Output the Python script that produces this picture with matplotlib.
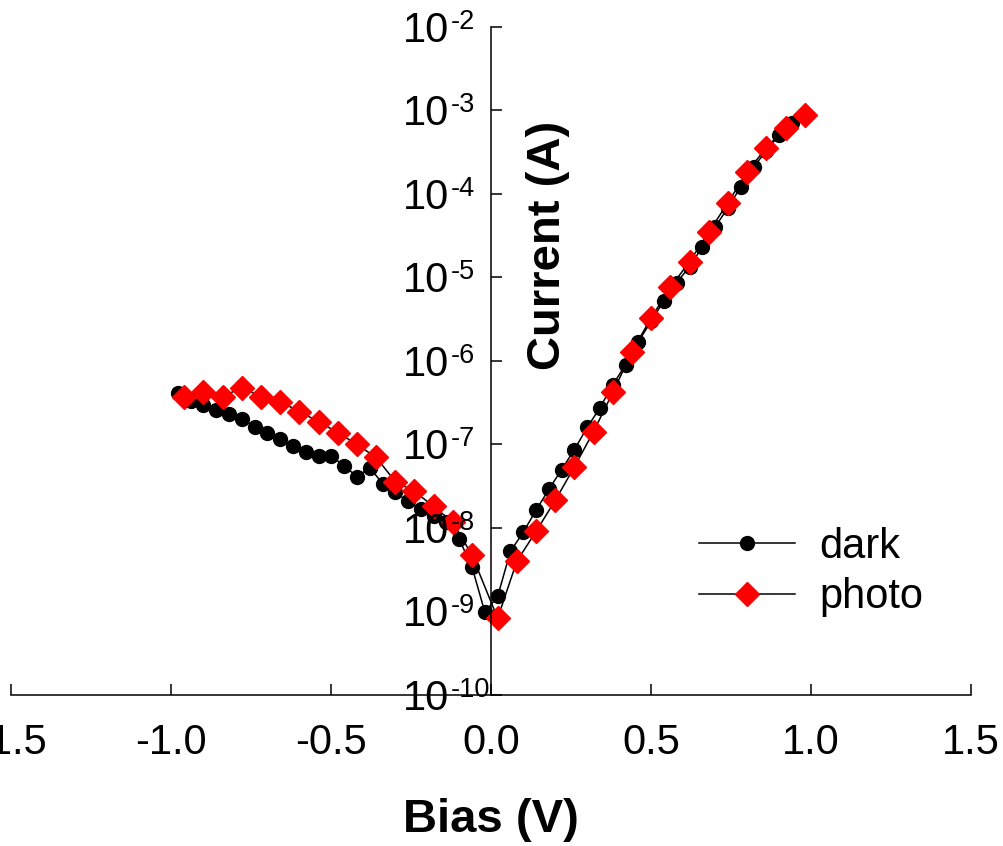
import numpy as np
import matplotlib
matplotlib.use("Agg")
import matplotlib.pyplot as plt
from matplotlib.ticker import FixedLocator, FuncFormatter, NullLocator, NullFormatter
from matplotlib.transforms import offset_copy

plt.rcParams['font.family'] = ['Liberation Sans', 'DejaVu Sans']
plt.rcParams['axes.unicode_minus'] = False

# dark I-V sweep (V, A)
dark_bias = [-0.98, -0.94, -0.90, -0.86, -0.82, -0.78, -0.74, -0.70, -0.66, -0.62,
             -0.58, -0.54, -0.50, -0.46, -0.42, -0.38, -0.34, -0.30, -0.26, -0.22,
             -0.18, -0.14, -0.10, -0.06, -0.02,
             0.02, 0.06, 0.10, 0.14, 0.18, 0.22, 0.26, 0.30, 0.34, 0.38,
             0.42, 0.46, 0.50, 0.54, 0.58, 0.62, 0.66, 0.70, 0.74, 0.78,
             0.82, 0.86, 0.90, 0.94, 0.98]
dark_current = [4.1e-7, 3.3e-7, 3.0e-7, 2.6e-7, 2.35e-7, 2.0e-7, 1.64e-7, 1.39e-7, 1.15e-7, 9.5e-8,
                8.2e-8, 7.2e-8, 7.2e-8, 5.6e-8, 4.1e-8, 5.3e-8, 3.4e-8, 2.67e-8, 2.08e-8, 1.67e-8,
                1.38e-8, 1.17e-8, 7.3e-9, 3.4e-9, 9.8e-10,
                1.52e-9, 5.25e-9, 8.9e-9, 1.63e-8, 2.9e-8, 5.0e-8, 8.7e-8, 1.6e-7, 2.77e-7, 5.2e-7,
                9.0e-7, 1.7e-6, 3.0e-6, 5.3e-6, 8.7e-6, 1.35e-5, 2.33e-5, 4.05e-5, 6.8e-5, 1.22e-4,
                2.1e-4, 3.3e-4, 5.1e-4, 7.1e-4, 8.6e-4]

# photo I-V sweep (V, A)
photo_bias = [-0.96, -0.90, -0.84, -0.78, -0.72, -0.66, -0.60, -0.54, -0.48, -0.42,
              -0.36, -0.30, -0.24, -0.18, -0.12, -0.06,
              0.02, 0.08, 0.14, 0.20, 0.26, 0.32, 0.38, 0.44, 0.50, 0.56,
              0.62, 0.68, 0.74, 0.80, 0.86, 0.92, 0.98]
photo_current = [3.75e-7, 4.3e-7, 3.75e-7, 4.8e-7, 3.75e-7, 3.27e-7, 2.48e-7, 1.88e-7, 1.39e-7, 1.0e-7,
                 7.0e-8, 3.6e-8, 2.74e-8, 1.81e-8, 1.17e-8, 4.7e-9,
                 8.3e-10, 4.0e-9, 9.1e-9, 2.14e-8, 5.4e-8, 1.43e-7, 4.2e-7, 1.29e-6, 3.3e-6, 7.6e-6,
                 1.55e-5, 3.5e-5, 7.85e-5, 1.85e-4, 3.57e-4, 6.2e-4, 8.85e-4]

x_ticks = [-1.5, -1.0, -0.5, 0.0, 0.5, 1.0, 1.5]
y_decades = [-10, -9, -8, -7, -6, -5, -4, -3, -2]

fig = plt.figure(figsize=(10.04, 8.46), dpi=100)
ax = fig.add_axes([0.01145, 0.1785, 0.9557, 0.7896])

ax.plot(dark_bias, dark_current, color='black', lw=1.1, marker='o', ms=10,
        mfc='black', mec='black', label='dark')
ax.plot(photo_bias, photo_current, color='black', lw=1.1, marker='D', ms=12.5,
        mfc='red', mec='red', label='photo')

ax.set_yscale('log')
ax.set_xlim(-1.5, 1.5)
ax.set_ylim(1e-10, 1e-2)

ax.spines['left'].set_position(('data', 0))
ax.spines['top'].set_visible(False)
ax.spines['right'].set_visible(False)
for s in ('left', 'bottom'):
    ax.spines[s].set_linewidth(1.1)

ax.xaxis.set_major_locator(FixedLocator(x_ticks))
ax.xaxis.set_major_formatter(FuncFormatter(lambda v, p: '%.1f' % v))
ax.yaxis.set_major_locator(FixedLocator([10.0 ** d for d in y_decades]))
ax.yaxis.set_minor_locator(NullLocator())
ax.yaxis.set_major_formatter(NullFormatter())

ax.tick_params(axis='x', direction='in', length=8, width=1.1, labelsize=30, pad=20)
ax.tick_params(axis='y', direction='in', length=8, width=1.1)
for lab in ax.get_xticklabels():
    lab.set_clip_on(False)

# decade labels: "10" with a hyphen exponent, as in the original
base_tr = offset_copy(ax.transData, fig=fig, x=-42, y=-15, units='dots')
sup_tr = offset_copy(ax.transData, fig=fig, x=-41, y=-2, units='dots')
for d in y_decades:
    ax.text(0, 10.0 ** d, '10', transform=base_tr, fontsize=30,
            ha='right', va='baseline', clip_on=False)
    ax.text(0, 10.0 ** d, '-%d' % abs(d), transform=sup_tr, fontsize=19.5,
            ha='left', va='baseline', clip_on=False)

fig.text(491 / 1004, 1 - 820 / 846, 'Bias (V)', fontsize=34, fontweight='bold',
         ha='center', va='center')
fig.text(548 / 1004, 1 - 245 / 846, 'Current (A)', fontsize=34, fontweight='bold',
         ha='center', va='center', rotation=90)

ax.legend(loc='upper left', bbox_to_anchor=(678 / 1004, 1 - 506 / 846),
          bbox_transform=fig.transFigure, frameon=False, fontsize=30,
          handlelength=2.3, handletextpad=0.6, labelspacing=0.25, borderpad=0)

fig.savefig('out.png', dpi=100)
